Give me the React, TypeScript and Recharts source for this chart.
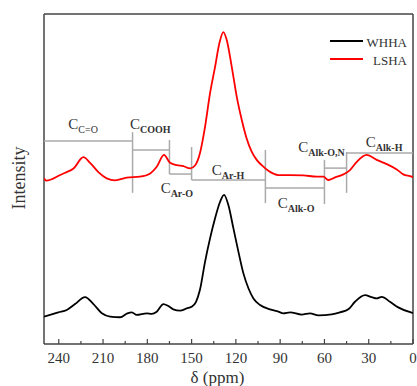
import React from 'react';
import { LineChart, Line, XAxis, YAxis, ReferenceLine, ReferenceDot, Customized } from 'recharts';

const lshaPpm = [250, 248.5, 239, 235.7, 230, 223.3, 218.8, 213, 207.5, 201.8, 194, 185, 178, 173.6, 168.7, 164.6, 160, 155.6, 151, 147.7, 144.3, 140.9, 137.5, 134.1, 131.2, 128.5, 126.2, 122.8, 119.4, 116, 112.7, 109.3, 105.9, 102.5, 98, 91.2, 83.3, 74.3, 65.2, 60.7, 57.4, 52.8, 47.2, 42.7, 38.1, 31.4, 24.6, 17.8, 11, 6.6, 0.9, 0];
const lshaIntensity = [50.2, 49.5, 51.2, 51.9, 53.2, 56.6, 54.9, 52.0, 50.2, 49.6, 50.4, 50.7, 51.7, 53.7, 57.3, 54.9, 54.2, 53.9, 53.2, 54.1, 57.9, 65.8, 76.0, 84.0, 91.1, 94.5, 92.1, 84.0, 74.9, 67.9, 62.3, 58.3, 55.8, 54.2, 52.5, 51.2, 51.2, 51.1, 50.7, 50.7, 49.7, 50.5, 51.4, 52.7, 55.2, 57.3, 55.8, 54.5, 52.9, 51.4, 50.7, 50.5];

const whhaPpm = [250, 246, 240.3, 234.6, 229, 222.2, 216.5, 210.8, 205.2, 198.4, 193.5, 190.5, 187.2, 180.4, 177, 173.6, 169.1, 165.8, 162.4, 157.8, 153.3, 150, 147, 144.3, 140.9, 137.5, 134.1, 130.7, 128, 125.1, 121.7, 118.3, 114.9, 111.5, 108.1, 103.6, 96.9, 91.2, 87.8, 83.3, 75.4, 69.8, 64.1, 55.1, 49.5, 43.8, 39.3, 32.5, 28, 24.6, 21.2, 15.6, 10, 0.9, 0];
const whhaIntensity = [8.3, 8.8, 9.6, 10.3, 12.1, 14.2, 12.1, 9.3, 8.3, 8.1, 9.3, 9.6, 8.8, 9.3, 9.1, 9.8, 12.1, 11.5, 10.5, 10.1, 10.8, 11.3, 12.8, 16.5, 24.9, 32.0, 38.1, 43.1, 45.2, 42.1, 35.1, 28.0, 21.4, 16.9, 13.8, 11.8, 10.5, 9.8, 9.3, 9.6, 8.9, 9.3, 8.7, 9.0, 9.6, 10.5, 12.8, 14.8, 14.2, 13.8, 14.3, 12.8, 11.1, 9.5, 9.4];

const xTicks = [0, 15, 30, 45, 60, 75, 90, 105, 120, 135, 150, 165, 180, 195, 210, 225, 240];

const regionBounds = [250, 190, 165, 150, 100, 60, 45, 0];
const bracketLevels = [61.5, 58.8, 51.5, 49.7, 47.3, 53.3, 57.9];
const dividerPpm = [190, 165, 150, 100, 60, 45];
const dividerTop = [64.2, 61.8, 59.7, 58.8, 55.8, 58.2];
const dividerBottom = [45.8, 51.5, 49.7, 42.7, 42.4, 45.8];

const labelSubs = ['C=O', 'COOH', 'Ar-O', 'Ar-H', 'Alk-O', 'Alk-O,N', 'Alk-H'];
const labelBold = [false, true, true, true, true, true, true];
const labelPpm = [223.5, 178, 160, 125.3, 79.2, 62, 19.6];
const labelLevel = [65.2, 65.2, 45.8, 51.2, 41.2, 58.3, 59.8];

const seriesNames = ['WHHA', 'LSHA'];
const seriesColors = ['#000000', '#ff0000'];

const lshaData = lshaPpm.map((p, i) => ({ ppm: p, v: lshaIntensity[i] }));
const whhaData = whhaPpm.map((p, i) => ({ ppm: p, v: whhaIntensity[i] }));

const FONT = '"Liberation Serif", "Times New Roman", serif';
const TEXT = '#333333';

const XTick = (props: any) => {
  const { x, y, payload } = props;
  const v = payload.value;
  const major = v % 30 === 0;
  return (
    <g>
      <line x1={x} x2={x} y1={y} y2={y - (major ? 5 : 3)} stroke="#444" strokeWidth={1.2} />
      {major && (
        <text x={x} y={y + 19} textAnchor="middle" fontSize={15} fontFamily={FONT} fill={TEXT}>
          {v}
        </text>
      )}
    </g>
  );
};

const Overlay = () => (
  <g>
    <text
      x={25}
      y={178}
      transform="rotate(-90 25 178)"
      textAnchor="middle"
      fontSize={18}
      fontFamily={FONT}
      fill={TEXT}
    >
      Intensity
    </text>
    {seriesNames.map((n, i) => (
      <g key={n}>
        <line x1={330} x2={363} y1={41 + i * 18} y2={41 + i * 18} stroke={seriesColors[i]} strokeWidth={1.8} />
        <text x={407} y={46.5 + i * 18} textAnchor="end" fontSize={13} fontFamily={FONT} fill={TEXT}>
          {n}
        </text>
      </g>
    ))}
  </g>
);

export default function App() {
  return (
    <div style={{ width: 417, height: 386, position: 'relative' }}>
      <style>{`body{margin:0;}`}</style>
      <LineChart width={417} height={386} margin={{ top: 14, right: 4, bottom: 0, left: 44 }}>
        <XAxis
          dataKey="ppm"
          type="number"
          domain={[0, 250]}
          reversed
          ticks={xTicks}
          interval={0}
          tickSize={0}
          tickMargin={0}
          tickLine={false}
          tick={<XTick />}
          height={42}
          axisLine={{ stroke: '#444', strokeWidth: 1.5 }}
          allowDataOverflow
          label={(p: any) => {
            const vb = p.viewBox;
            return (
              <text x={vb.x + vb.width / 2 - 11} y={vb.y + 39} textAnchor="middle" fontSize={17} fontFamily={FONT} fill={TEXT}>
                δ (ppm)
              </text>
            );
          }}
        />
        <YAxis type="number" domain={[0, 100]} hide allowDataOverflow />
        <ReferenceLine x={250} stroke="#444" strokeWidth={1.5} />
        <ReferenceLine x={0} stroke="#444" strokeWidth={1.5} />
        <ReferenceLine y={100} stroke="#444" strokeWidth={1.5} />
        {bracketLevels.map((lv, i) => (
          <ReferenceLine
            key={'h' + i}
            segment={[{ x: regionBounds[i], y: lv }, { x: regionBounds[i + 1], y: lv }]}
            stroke="#aaaaaa"
            strokeWidth={1.5}
          />
        ))}
        {dividerPpm.map((p, i) => (
          <ReferenceLine
            key={'v' + i}
            segment={[{ x: p, y: dividerTop[i] }, { x: p, y: dividerBottom[i] }]}
            stroke="#aaaaaa"
            strokeWidth={1.5}
          />
        ))}
        <Line data={whhaData} dataKey="v" type="monotone" stroke={seriesColors[0]} strokeWidth={1.8} dot={false} isAnimationActive={false} />
        <Line data={lshaData} dataKey="v" type="monotone" stroke={seriesColors[1]} strokeWidth={1.8} dot={false} isAnimationActive={false} />
        {labelSubs.map((s, i) => (
          <ReferenceDot
            key={'l' + i}
            x={labelPpm[i]}
            y={labelLevel[i]}
            r={0}
            shape={(p: any) => (
              <text x={p.cx} y={p.cy} textAnchor="middle" fontFamily={FONT} fill={TEXT}>
                <tspan fontSize={15}>C</tspan>
                <tspan fontSize={10} dy={4} fontWeight={labelBold[i] ? 'bold' : 'normal'}>
                  {s}
                </tspan>
              </text>
            )}
          />
        ))}
        <Customized component={Overlay} />
      </LineChart>
    </div>
  );
}
